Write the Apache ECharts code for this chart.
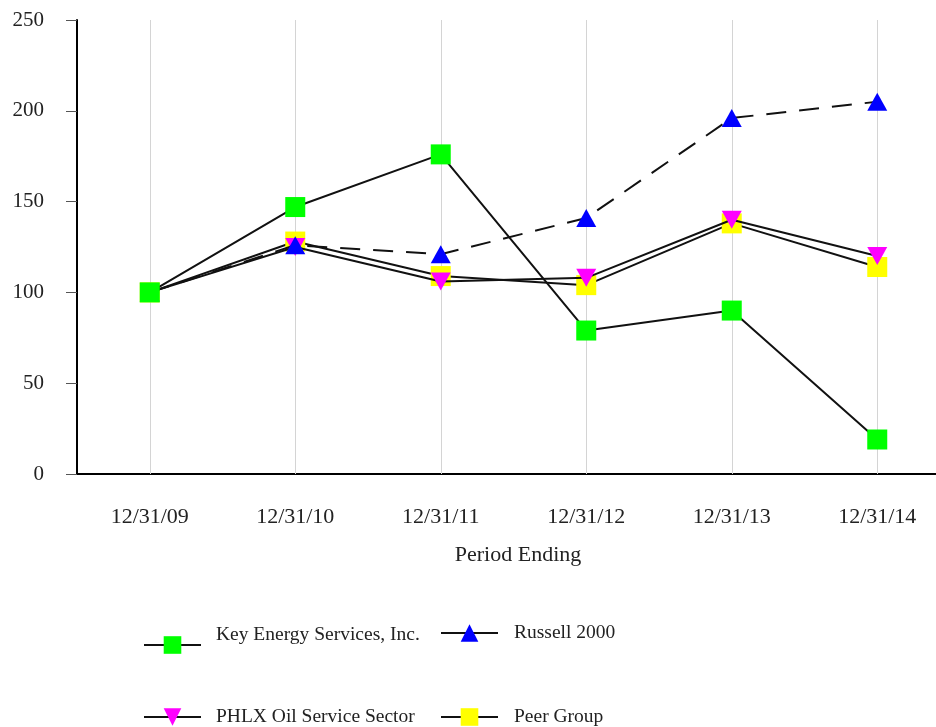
<!DOCTYPE html>
<html>
<head>
<meta charset="utf-8">
<script src="https://cdn.jsdelivr.net/npm/echarts@6/dist/echarts.min.js"></script>
<style>html,body{margin:0;padding:0;background:#fff}#c{width:936px;height:727px}</style>
</head>
<body>
<div id="c"></div>
<script>
var categories = ['12/31/09','12/31/10','12/31/11','12/31/12','12/31/13','12/31/14'];
var keyEnergy = [100, 147, 176, 79, 90, 19];
var russell2000 = [100, 126, 121, 141, 196, 205];
var phlx = [100, 125, 106, 108, 140, 120];
var peerGroup = [100, 128, 109, 104, 138, 114];
var yTicks = {min: 0, max: 250, interval: 50};

var FONT = '"Liberation Serif", "Times New Roman", serif';
var chart = echarts.init(document.getElementById('c'), null, {renderer: 'canvas'});

function legendAt(name, left, top, extra, textPad) {
  var l = {
    data: [name], left: left, top: top, orient: 'horizontal', padding: 0,
    itemWidth: 57, itemHeight: 22, selectedMode: false,
    textStyle: {fontFamily: FONT, fontSize: 19.5, color: '#222', padding: textPad || [0,0,0,10]}
  };
  if (extra) for (var k in extra) l[k] = extra[k];
  return l;
}

var option = {
  backgroundColor: '#fff',
  animation: false,
  grid: {left: 77, top: 20, height: 454, width: 873, containLabel: false, outerBoundsMode: 'none'},
  legend: [
    legendAt('Key Energy Services, Inc.', 143, 625, {
      formatter: function (n) { return n + '\n'; }
    }),
    legendAt('Russell 2000', 440, 623, {lineStyle: {type: 'solid'}}, [0,0,0,11]),
    legendAt('PHLX Oil Service Sector', 143, 707),
    legendAt('Peer Group', 440, 707, null, [0,0,0,11])
  ],
  xAxis: {
    type: 'category', data: categories, boundaryGap: true,
    name: 'Period Ending', nameLocation: 'middle', nameGap: 70,
    nameTextStyle: {fontFamily: FONT, fontSize: 22, color: '#222', padding: [0,0,0,9]},
    axisLine: {lineStyle: {color: '#000', width: 2}},
    axisTick: {alignWithLabel: true, length: 10, lineStyle: {color: '#000', width: 1}},
    axisLabel: {fontFamily: FONT, fontSize: 22, color: '#222', margin: 32},
    splitLine: {show: false}
  },
  yAxis: {
    type: 'value', min: yTicks.min, max: yTicks.max, interval: yTicks.interval,
    axisLine: {show: true, lineStyle: {color: '#000', width: 2}},
    axisTick: {show: true, length: 11, lineStyle: {color: '#555', width: 1}},
    axisLabel: {fontFamily: FONT, fontSize: 21, color: '#222', margin: 33},
    splitLine: {show: false}
  },
  series: [
    {
      name: 'Key Energy Services, Inc.', type: 'line', data: keyEnergy, z: 5,
      symbol: 'rect', symbolSize: 20,
      itemStyle: {color: '#00ff00'},
      lineStyle: {color: '#111', width: 2},
      markLine: {
        silent: true, symbol: 'none', label: {show: false},
        lineStyle: {color: '#d4d4d4', width: 1, type: 'solid'},
        data: categories.map(function (c) { return {xAxis: c}; }),
        z: 1
      }
    },
    {
      name: 'Russell 2000', type: 'line', data: russell2000, z: 4,
      symbol: 'triangle', symbolSize: [20, 18],
      itemStyle: {color: '#0000ff'},
      lineStyle: {color: '#111', width: 2, type: [20, 13]}
    },
    {
      name: 'PHLX Oil Service Sector', type: 'line', data: phlx, z: 3,
      symbol: 'triangle', symbolRotate: 180, symbolSize: [20, 18],
      itemStyle: {color: '#ff00ff'},
      lineStyle: {color: '#111', width: 2}
    },
    {
      name: 'Peer Group', type: 'line', data: peerGroup, z: 2,
      symbol: 'rect', symbolSize: 20,
      itemStyle: {color: '#ffff00'},
      lineStyle: {color: '#111', width: 2}
    }
  ]
};
chart.setOption(option);
</script>
</body>
</html>
